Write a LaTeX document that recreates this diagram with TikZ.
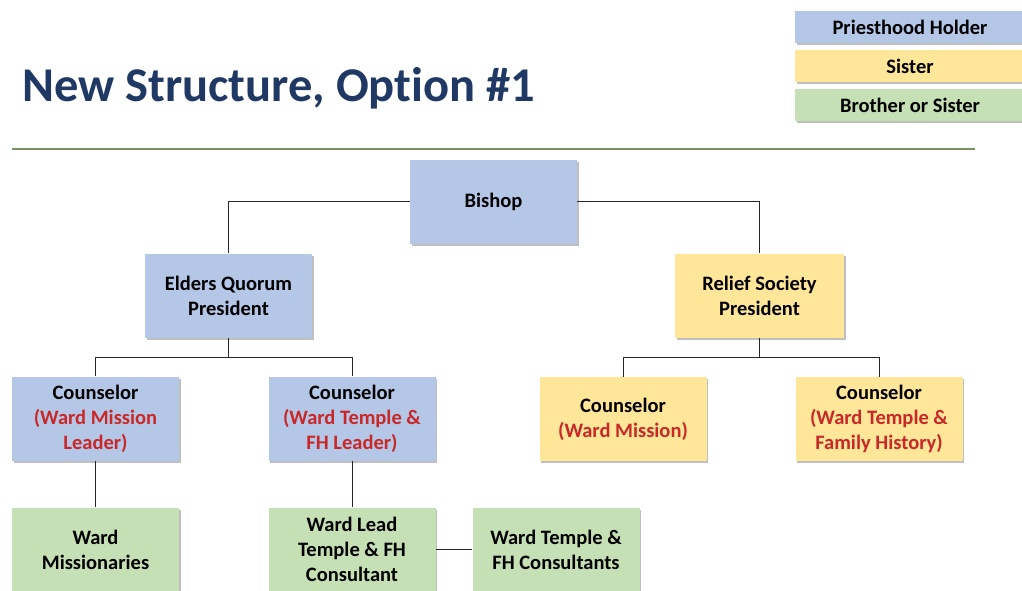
\documentclass[tikz,border=0pt]{standalone}
\usepackage{fontspec}
\setmainfont[Ligatures=NoCommon]{Carlito}
\usetikzlibrary{shadows}
\definecolor{phblue}{RGB}{180,199,231}
\definecolor{sisyellow}{RGB}{255,230,153}
\definecolor{bothgreen}{RGB}{197,224,180}
\definecolor{titlenavy}{RGB}{31,56,100}
\definecolor{rolered}{RGB}{200,40,40}
\definecolor{ruleolive}{RGB}{122,146,100}
\begin{document}
\begin{tikzpicture}[x=1pt,y=-1pt]
		    	\tikzstyle{role}=[rectangle,minimum width=167pt,minimum height=84pt,align=center,inner sep=2pt,font=\fontsize{20.5}{25}\selectfont\bfseries,drop shadow={shadow xshift=1.5pt,shadow yshift=-2pt,opacity=0.5}]
		    	\tikzstyle{key}=[rectangle,minimum width=230pt,minimum height=32pt,align=center,font=\fontsize{20.5}{23}\selectfont\bfseries,drop shadow={shadow xshift=1.5pt,shadow yshift=-2pt,opacity=0.5}]
		       	\tikzstyle{link}=[draw, line width=1pt, black!85]
		       	\clip (0,0) rectangle (1022,591);
		       	% title and rule
		       	\node [anchor=base west,text=titlenavy,font=\fontsize{48.5}{52}\selectfont\bfseries,inner sep=0pt] (title) at (22,102) {New Structure, Option \#1};
		       	\coordinate (rulel) at (12,149);
		       	\coordinate (ruler) at (975,149);
		       	\draw [ruleolive, line width=1.2pt] (rulel) -- (ruler);
		       	% legend
		       	\begin{scope}
		        	\node [key,fill=phblue] (kph) at (910,27.5) {Priesthood Holder};
		        	\node [key,fill=sisyellow] (ksis) at (910,66.5) {Sister};
		        	\node [key,fill=bothgreen] (kboth) at (910,105.5) {Brother or Sister};
		        \end{scope}
		       	% chart
		       	\begin{scope}
		        	\node [role,fill=phblue] (bishop) at (493.5,201.5) {Bishop};
		        	\node [role,fill=phblue] (eqp) at (228.5,295.5) {Elders Quorum\\President};
		        	\node [role,fill=sisyellow,minimum width=169pt] (rsp) at (759.5,295.5) {Relief Society\\President};
		        	\node [role,fill=phblue] (eqc1) at (95.5,418.5) {Counselor\\\textcolor{rolered}{(Ward Mission}\\\textcolor{rolered}{Leader)}};
		        	\node [role,fill=phblue] (eqc2) at (352,418.5) {Counselor\\\textcolor{rolered}{(Ward Temple \&}\\\textcolor{rolered}{FH Leader)}};
		        	\node [role,fill=sisyellow] (rsc1) at (623,419) {Counselor\\\textcolor{rolered}{(Ward Mission)}};
		        	\node [role,fill=sisyellow] (rsc2) at (879,419) {Counselor\\\textcolor{rolered}{(Ward Temple \&}\\\textcolor{rolered}{Family History)}};
		        	\node [role,fill=bothgreen] (wmiss) at (95.5,549.5) {Ward\\Missionaries};
		        	\node [role,fill=bothgreen] (wlead) at (352,549.5) {Ward Lead\\Temple \& FH\\Consultant};
		        	\node [role,fill=bothgreen] (wcons) at (556,549.5) {Ward Temple \&\\FH Consultants};
		        	\coordinate (eqj) at (228.5,357);
		        	\coordinate (rsj) at (759.5,357);
		        	\path[link] (bishop.west) -| (eqp.north);
		        	\path[link] (bishop.east) -| (rsp.north);
		        	\path[link] (eqp.south) -- (eqj) -| (eqc1.north);
		        	\path[link] (eqj) -| (eqc2.north);
		        	\path[link] (rsp.south) -- (rsj) -| (rsc1.north);
		        	\path[link] (rsj) -| (rsc2.north);
		        	\path[link] (eqc1.south) -- (wmiss.north);
		        	\path[link] (eqc2.south) -- (wlead.north);
		        	\path[link] (wlead.east) -- (wcons.west);
		        \end{scope}
		    \end{tikzpicture}
\end{document}
